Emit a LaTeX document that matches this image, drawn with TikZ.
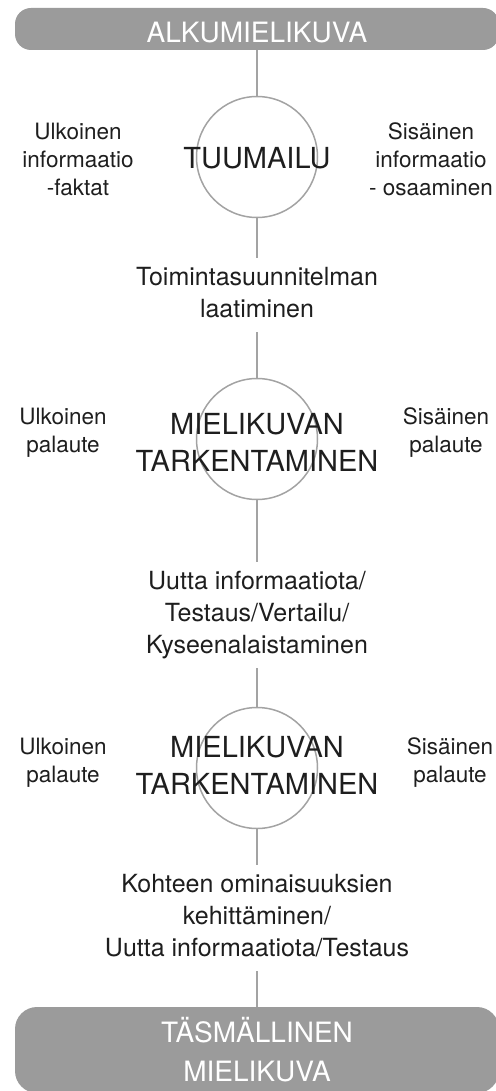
\documentclass[tikz,border=0pt]{standalone}
\usepackage{fontspec}
\setmainfont{TeX Gyre Heros}
\definecolor{bargray}{HTML}{9B9B9B}
\definecolor{linegray}{HTML}{A3A3A3}
\definecolor{textgray}{HTML}{1E1E1E}

\begin{document}
\begin{tikzpicture}[x=1pt,y=-1pt]
% Styles for the bars, the circles and the texts
\tikzstyle{bar node}=[rectangle,rounded corners=16pt,fill=bargray,text=white,minimum width=484pt,align=center,font=\fontsize{28}{39}\selectfont]
\tikzstyle{ring node}=[circle,draw=linegray,line width=1.5pt,minimum size=121pt,inner sep=0pt]
\tikzset{
big text/.style={align=center,text=textgray,inner sep=0pt,font=\fontsize{29}{37}\selectfont},
step text/.style={align=center,text=textgray,inner sep=9pt,text depth=6pt,font=\fontsize{25}{32}\selectfont},
side text/.style={align=center,text=textgray,inner sep=0pt,font=\fontsize{22.5}{28}\selectfont},
link/.style={draw=linegray,line width=2pt}
}
\useasboundingbox (0,0) rectangle (495,1091);

% Start and end bars
\node[bar node,minimum height=42pt,inner ysep=7pt,text height=28pt,text depth=0pt] (alku) at (257,29) {ALKUMIELIKUVA};
\node[bar node,rounded corners=22pt,minimum height=86pt] (tasma) at (257,1050) {TÄSMÄLLINEN\\MIELIKUVA};

% Circles
\node[ring node] (tuum) at (257,157) {};
\node[ring node] (tark1) at (257,439) {};
\node[ring node] (tark2) at (257,768) {};
\node[big text] (tuumtxt) at (257,158) {TUUMAILU};
\node[big text] (tark1txt) at (257,442) {MIELIKUVAN\\TARKENTAMINEN};
\node[big text] (tark2txt) at (257,765) {MIELIKUVAN\\TARKENTAMINEN};

% Side labels
\node[side text] (ulk1) at (78,159) {Ulkoinen\\informaatio\\-faktat};
\node[side text] (sis1) at (431,159) {Sisäinen\\informaatio\\- osaaminen};
\node[side text] (ulk2) at (63,433) {Ulkoinen\\palaute};
\node[side text] (sis2) at (446,433) {Sisäinen\\palaute};
\node[side text] (ulk3) at (63,763) {Ulkoinen\\palaute};
\node[side text] (sis3) at (450,763) {Sisäinen\\palaute};

% Steps between the circles
\node[step text] (laati) at (257,295) {Toimintasuunnitelman\\laatiminen};
\node[step text] (uutta) at (257,615) {Uutta informaatiota/\\Testaus/Vertailu/\\Kyseenalaistaminen};
\node[step text] (kohde) at (257,918) {Kohteen ominaisuuksien\\kehittäminen/\\Uutta informaatiota/Testaus};

\draw[link] (alku) -- (tuum);
\draw[link] (tuum) -- (laati);
\draw[link] (laati) -- (tark1);
\draw[link] (tark1) -- (uutta);
\draw[link] (uutta) -- (tark2);
\draw[link] (tark2) -- (kohde);
\draw[link] (kohde) -- (tasma);
\end{tikzpicture}
\end{document}
